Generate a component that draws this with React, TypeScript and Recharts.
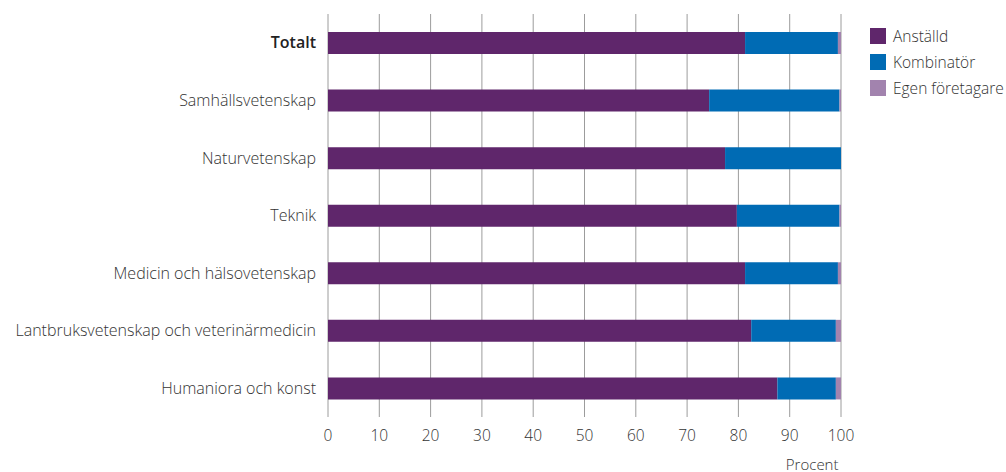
import { BarChart, Bar, XAxis, YAxis, CartesianGrid, Legend } from "recharts";

const categories = [
  "Totalt",
  "Samhällsvetenskap",
  "Naturvetenskap",
  "Teknik",
  "Medicin och hälsovetenskap",
  "Lantbruksvetenskap och veterinärmedicin",
  "Humaniora och konst",
];
const anstalld = [81.3, 74.3, 77.4, 79.7, 81.3, 82.5, 87.6];
const kombinator = [18.1, 25.4, 22.6, 20.0, 18.1, 16.5, 11.4];
const egenForetagare = [0.6, 0.3, 0, 0.3, 0.6, 1.0, 1.0];
const xTicks = [0, 10, 20, 30, 40, 50, 60, 70, 80, 90, 100];

const data = categories.map((category, i) => ({
  category,
  anstalld: anstalld[i],
  kombinator: kombinator[i],
  egen: egenForetagare[i],
}));

const series = [
  { key: "anstalld", name: "Anställd", color: "#5f266b" },
  { key: "kombinator", name: "Kombinatör", color: "#006bb4" },
  { key: "egen", name: "Egen företagare", color: "#a283ae" },
];

const FONT = "'Open Sans', Lato, sans-serif";

function CategoryTick(props: any) {
  const { x, y, payload } = props;
  const bold = payload.value === "Totalt";
  return (
    <text
      x={x}
      y={y}
      dy="0.35em"
      textAnchor="end"
      fontSize={16}
      fontFamily={FONT}
      fontWeight={bold ? 600 : 300}
      fill={bold ? "#222" : "#333"}
    >
      {payload.value}
    </text>
  );
}

function LegendContent() {
  return (
    <div style={{ fontFamily: FONT, fontSize: 15.5, fontWeight: 300, color: "#333" }}>
      {series.map((s) => (
        <div key={s.key} style={{ display: "flex", alignItems: "center", height: 26, whiteSpace: "nowrap" }}>
          <span style={{ width: 16, height: 16, background: s.color, marginRight: 7, display: "inline-block", flex: "none" }} />
          <span>{s.name}</span>
        </div>
      ))}
    </div>
  );
}

export default function App() {
  return (
    <div style={{ position: "absolute", left: 0, top: 0, background: "#fff", fontFamily: FONT }}>
      <BarChart
        width={1006}
        height={472}
        data={data}
        layout="vertical"
        margin={{ top: 14, right: 29, bottom: 0, left: 0 }}
      >
        <CartesianGrid horizontal={false} stroke="#9c9c9c" />
        <XAxis
          type="number"
          domain={[0, 100]}
          ticks={xTicks}
          axisLine={false}
          tickLine={false}
          tickSize={0}
          tickMargin={13}
          height={55}
          tick={{ fontSize: 15.5, fill: "#333", fontFamily: FONT, fontWeight: 300 }}
          label={{ value: "Procent", position: "insideBottomRight", offset: 2.5, fontSize: 15, fill: "#333", fontFamily: FONT, fontWeight: 300 }}
        />
        <YAxis
          type="category"
          dataKey="category"
          width={328}
          axisLine={false}
          tickLine={false}
          tickSize={0}
          tickMargin={12}
          tick={<CategoryTick />}
        />
        <Legend
          layout="vertical"
          align="right"
          verticalAlign="top"
          content={<LegendContent />}
          wrapperStyle={{ left: 870, top: 23, width: 136 }}
        />
        {series.map((s) => (
          <Bar
            key={s.key}
            dataKey={s.key}
            name={s.name}
            stackId="a"
            fill={s.color}
            barSize={22}
            isAnimationActive={false}
          />
        ))}
      </BarChart>
    </div>
  );
}
